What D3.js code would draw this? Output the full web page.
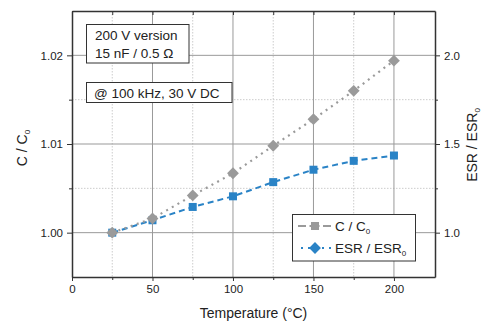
<!DOCTYPE html>
<html lang="en">
<head>
<meta charset="utf-8">
<script src="https://d3js.org/d3.v7.min.js"></script>
<style>
  body { margin: 0; background: #fff; }
  text { font-family: "Liberation Sans", Arial, sans-serif; fill: #222; }
</style>
</head>
<body>
<svg width="499" height="326" id="chart"></svg>
<script>
  var temps = [25, 50, 75, 100, 125, 150, 175, 200];
  var capRatio = [1.0000, 1.0014, 1.0029, 1.0041, 1.0057, 1.0071, 1.0081, 1.0087];
  var esrRatio = [1.00, 1.08, 1.21, 1.335, 1.49, 1.64, 1.80, 1.97];
  var xTicks = [0, 50, 100, 150, 200];
  var xMinor = [25, 75, 125, 175];
  var leftTicks = [1.00, 1.01, 1.02];
  var leftMinor = [1.005, 1.015];
  var rightTicks = [1.0, 1.5, 2.0];
  var rightMinor = [1.25, 1.75];

  var svg = d3.select("#chart");
  var margin = {top: 11, right: 64, bottom: 49, left: 72};
  var width = 499 - margin.left - margin.right;
  var height = 326 - margin.top - margin.bottom;
  var g = svg.append("g").attr("transform", `translate(${margin.left}, ${margin.top})`);

  var x = d3.scaleLinear().domain([0, 225.5]).range([0, width]);
  var yL = d3.scaleLinear().domain([0.995, 1.025]).range([height, 0]);
  var yR = d3.scaleLinear().domain([0.75, 2.25]).range([height, 0]);

  // grid
  g.selectAll(".gxm").data(xMinor).enter().append("line")
    .attr("x1", d => x(d)).attr("x2", d => x(d)).attr("y1", 0).attr("y2", height)
    .attr("stroke", "#ccc").attr("stroke-dasharray", "1.5,1.5");
  g.selectAll(".gym").data(leftMinor).enter().append("line")
    .attr("x1", 0).attr("x2", width).attr("y1", d => yL(d)).attr("y2", d => yL(d))
    .attr("stroke", "#ccc").attr("stroke-dasharray", "1.5,1.5");
  g.selectAll(".gx").data(xTicks.slice(1)).enter().append("line")
    .attr("x1", d => x(d)).attr("x2", d => x(d)).attr("y1", 0).attr("y2", height)
    .attr("stroke", "#999");
  g.selectAll(".gy").data(leftTicks).enter().append("line")
    .attr("x1", 0).attr("x2", width).attr("y1", d => yL(d)).attr("y2", d => yL(d))
    .attr("stroke", "#999");

  // axes
  function styleAxis(sel) {
    sel.select(".domain").attr("stroke", "#333").attr("stroke-width", 1.5);
    sel.selectAll(".tick line").attr("stroke", "#333");
    sel.selectAll(".tick text").style("font-size", "11.5px").attr("fill", "#333");
  }
  var xAxis = g.append("g").attr("transform", `translate(0, ${height})`)
    .call(d3.axisBottom(x).tickValues(xTicks).tickSize(4).tickSizeOuter(0).tickPadding(4));
  styleAxis(xAxis);
  g.append("g").attr("transform", `translate(0, ${height})`)
    .call(d3.axisBottom(x).tickValues(xMinor).tickSize(3).tickSizeOuter(0).tickFormat(""))
    .call(s => { s.select(".domain").remove(); s.selectAll("line").attr("stroke", "#333"); });
  var topAxis = g.append("g")
    .call(d3.axisBottom(x).tickValues(xTicks.concat(xMinor)).tickSize(4).tickSizeOuter(0).tickFormat(""));
  styleAxis(topAxis);

  var lAxis = g.append("g")
    .call(d3.axisLeft(yL).tickValues(leftTicks).tickFormat(d3.format(".2f")).tickSize(5).tickSizeOuter(0).tickPadding(4));
  styleAxis(lAxis);
  g.append("g").call(d3.axisLeft(yL).tickValues(leftMinor).tickSize(3).tickFormat(""))
    .call(s => { s.select(".domain").remove(); s.selectAll("line").attr("stroke", "#333"); });

  var rAxis = g.append("g").attr("transform", `translate(${width}, 0)`)
    .call(d3.axisRight(yR).tickValues(rightTicks).tickFormat(d3.format(".1f")).tickSize(5).tickSizeOuter(0).tickPadding(4));
  styleAxis(rAxis);
  g.append("g").attr("transform", `translate(${width}, 0)`)
    .call(d3.axisRight(yR).tickValues(rightMinor).tickSize(3).tickFormat(""))
    .call(s => { s.select(".domain").remove(); s.selectAll("line").attr("stroke", "#333"); });

  // series
  var blue = "#2a83c6", gray = "#9a9a9a";
  var capData = temps.map((t, i) => ({t: t, v: capRatio[i]}));
  var esrData = temps.map((t, i) => ({t: t, v: esrRatio[i]}));
  var sq = d3.symbol().type(d3.symbolSquare);

  g.append("path").datum(capData)
    .attr("d", d3.line().x(d => x(d.t)).y(d => yL(d.v)))
    .attr("fill", "none").attr("stroke", blue).attr("stroke-width", 2).attr("stroke-dasharray", "6,4");
  g.selectAll(".sq").data(capData).enter().append("rect")
    .attr("x", d => x(d.t) - 4).attr("y", d => yL(d.v) - 4).attr("width", 8).attr("height", 8)
    .attr("fill", blue);

  g.append("path").datum(esrData)
    .attr("d", d3.line().x(d => x(d.t)).y(d => yR(d.v)))
    .attr("fill", "none").attr("stroke", gray).attr("stroke-width", 2.2).attr("stroke-dasharray", "2,4.5");
  g.selectAll(".dm").data(esrData).enter().append("path")
    .attr("transform", d => `translate(${x(d.t)}, ${yR(d.v)}) rotate(45)`)
    .attr("d", sq.size(70)())
    .attr("fill", gray);

  // axis titles
  svg.append("text").attr("x", margin.left + width / 2).attr("y", 318)
    .attr("text-anchor", "middle").style("font-size", "14px").text("Temperature (°C)");
  var lt = svg.append("text").attr("transform", "translate(27, 148) rotate(-90)")
    .attr("text-anchor", "middle").style("font-size", "14px");
  lt.append("tspan").text("C / C");
  lt.append("tspan").attr("dy", 3).style("font-size", "8px").text("0");
  var rt = svg.append("text").attr("transform", "translate(477, 145) rotate(-90)")
    .attr("text-anchor", "middle").style("font-size", "14px");
  rt.append("tspan").text("ESR / ESR");
  rt.append("tspan").attr("dy", 3).style("font-size", "8px").text("0");

  // annotation boxes
  svg.append("rect").attr("x", 86.5).attr("y", 24.5).attr("width", 102.5).attr("height", 38.5)
    .attr("fill", "#fff").attr("stroke", "#333");
  svg.append("text").attr("x", 95).attr("y", 40).style("font-size", "13.5px").text("200 V version");
  svg.append("text").attr("x", 95).attr("y", 58).style("font-size", "13.5px").text("15 nF / 0.5 Ω");
  svg.append("rect").attr("x", 86.5).attr("y", 82.5).attr("width", 145.5).attr("height", 20)
    .attr("fill", "#fff").attr("stroke", "#333");
  svg.append("text").attr("x", 94).attr("y", 97.5).style("font-size", "13.5px").text("@ 100 kHz, 30 V DC");

  // legend
  var lg = svg.append("g");
  lg.append("rect").attr("x", 292.5).attr("y", 214.5).attr("width", 123).attr("height", 46.5)
    .attr("fill", "#fff").attr("stroke", "#333");
  lg.append("line").attr("x1", 298).attr("x2", 331).attr("y1", 226).attr("y2", 226)
    .attr("stroke", gray).attr("stroke-width", 2).attr("stroke-dasharray", "8,3.5,10,3.5,8");
  lg.append("rect").attr("x", 311).attr("y", 222).attr("width", 8).attr("height", 8).attr("fill", gray);
  lg.append("line").attr("x1", 301).attr("x2", 331).attr("y1", 248).attr("y2", 248)
    .attr("stroke", blue).attr("stroke-width", 2).attr("stroke-dasharray", "2,5");
  lg.append("path").attr("transform", "translate(315, 248) rotate(45)")
    .attr("d", sq.size(70)()).attr("fill", blue);
  var l1 = lg.append("text").attr("x", 335).attr("y", 231).style("font-size", "13.5px");
  l1.append("tspan").text("C / C");
  l1.append("tspan").attr("dy", 3).style("font-size", "8px").text("0");
  var l2 = lg.append("text").attr("x", 335).attr("y", 253).style("font-size", "13.5px");
  l2.append("tspan").text("ESR / ESR");
  l2.append("tspan").attr("dy", 3).style("font-size", "8px").text("0");
</script>
</body>
</html>
